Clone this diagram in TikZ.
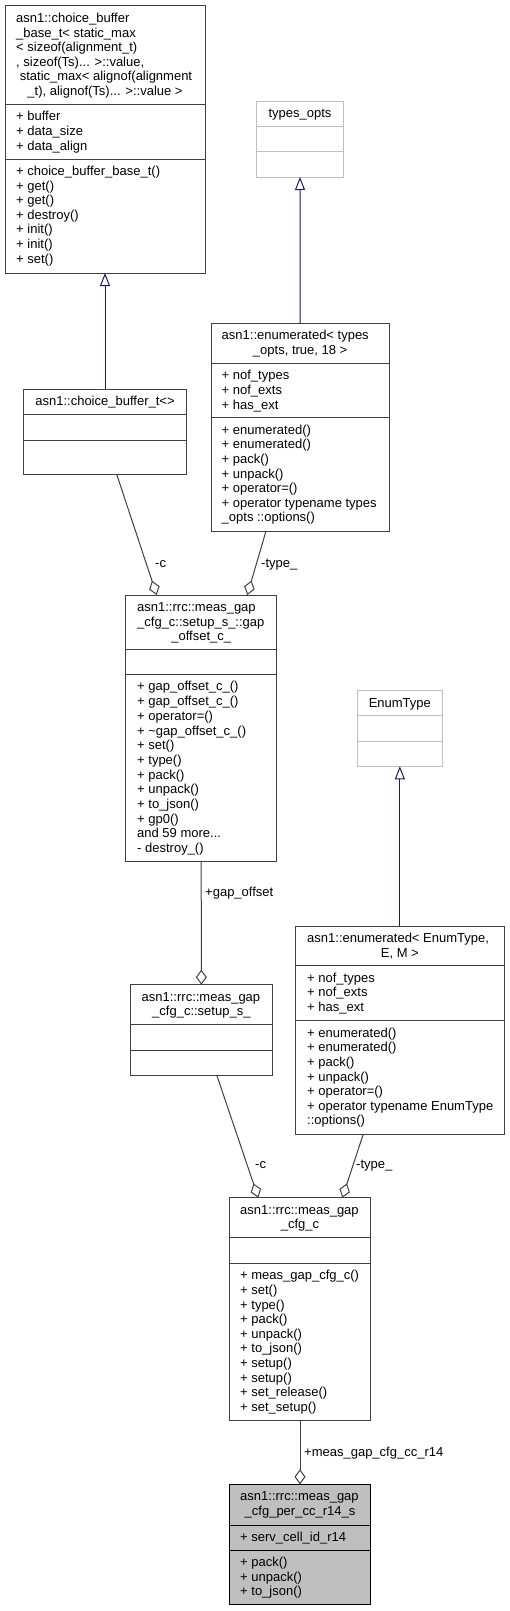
\documentclass[tikz,border=0pt]{standalone}
\usepackage{fontspec}
\setmainfont{Liberation Sans}
\usepackage{xcolor}
\usepackage{tikz}
\usetikzlibrary{arrows.meta}

\definecolor{boxgray}{HTML}{404040}
\definecolor{extgray}{HTML}{BFBFBF}
\definecolor{hlfill}{HTML}{BFBFBF}
\definecolor{edgegray}{HTML}{404040}
\definecolor{navyline}{HTML}{191970}

\newcommand{\tdots}{...}

\tikzset{
  cls/.style={draw=boxgray, line width=1pt, fill=white, anchor=north west, inner sep=0pt, outer sep=0pt},
  extcls/.style={cls, draw=extgray},
  sep/.style={draw=boxgray, line width=1pt},
  extsep/.style={draw=extgray, line width=1pt},
  txt/.style={anchor=base west, inner sep=0pt},
  ttl/.style={anchor=base, inner sep=0pt},
  lbl/.style={anchor=base west, inner sep=0pt},
  inherit/.style={draw=navyline, line width=1pt, -{Triangle[open, length=13pt, width=10pt]}},
  member/.style={draw=edgegray, line width=1pt, -{Diamond[open, length=15pt, width=11pt]}},
}

\begin{document}
\begin{tikzpicture}[x=1pt, y=-1pt, font=\fontsize{13}{14.6}\selectfont]
  \useasboundingbox (0,0) rectangle (509,1611);

  % choice_buffer_base_t
  \node[cls, minimum width=200, minimum height=267] (base) at (5,6) {};
  \draw[sep] (5,104.3) -- (205,104.3) (5,159) -- (205,159);
  \foreach \t [count=\i] in {asn1::choice\_buffer, \_base\_t< static\_max, < sizeof(alignment\_t), {, sizeof(Ts)\tdots{} >::value,}, {\ static\_max< alignof(alignment}}
    \node[txt] (base-t\i) at (16,{6+1.9+14.6*\i}) {\t};
  \node[ttl] (base-t6) at (105,95.5) {\_t), alignof(Ts)\tdots{} >::value >};
  \foreach \t [count=\i] in {+ buffer, + data\_size, + data\_align}
    \node[txt] (base-a\i) at (16,{104.3+1.9+14.6*\i}) {\t};
  \foreach \t [count=\i] in {+ choice\_buffer\_base\_t(), + get(), + get(), + destroy(), + init(), + init(), + set()}
    \node[txt] (base-m\i) at (16,{159+1.9+14.6*\i}) {\t};

  % types_opts
  \node[extcls, minimum width=86.6, minimum height=76] (topts) at (256.7,101) {};
  \draw[extsep] (256.7,126.7) -- (343.3,126.7) (256.7,151.7) -- (343.3,151.7);
  \node[ttl] (topts-t) at (300,117.5) {types\_opts};

  % enumerated< types_opts >
  \node[cls, minimum width=178.3, minimum height=207.7] (enumt) at (211,323.3) {};
  \draw[sep] (211,363.3) -- (389.3,363.3) (211,417.7) -- (389.3,417.7);
  \node[txt] (enumt-t1) at (221.5,339.8) {asn1::enumerated< types};
  \node[ttl] (enumt-t2) at (300.15,354.4) {\_opts, true, 18 >};
  \foreach \t [count=\i] in {+ nof\_types, + nof\_exts, + has\_ext}
    \node[txt] (enumt-a\i) at (221.5,{363.3+1.9+14.6*\i}) {\t};
  \foreach \t [count=\i] in {+ enumerated(), + enumerated(), + pack(), + unpack(), + operator=(), + operator typename types, \_opts ::options()}
    \node[txt] (enumt-m\i) at (221.5,{417.7+1.9+14.6*\i}) {\t};

  % choice_buffer_t<>
  \node[cls, minimum width=163.4, minimum height=85] (cbuf) at (23.3,389.3) {};
  \draw[sep] (23.3,414.3) -- (186.7,414.3) (23.3,440) -- (186.7,440);
  \node[ttl] (cbuf-t) at (105,405.8) {asn1::choice\_buffer\_t<>};

  % gap_offset_c_
  \node[cls, minimum width=151, minimum height=266.7] (gapoff) at (125.7,595) {};
  \draw[sep] (125.7,649.3) -- (276.7,649.3) (125.7,674.3) -- (276.7,674.3);
  \node[txt] (gapoff-t1) at (137,611.5) {asn1::rrc::meas\_gap};
  \node[txt] (gapoff-t2) at (137,626.1) {\_cfg\_c::setup\_s\_::gap};
  \node[ttl] (gapoff-t3) at (201.2,640.7) {\_offset\_c\_};
  \foreach \t [count=\i] in {+ gap\_offset\_c\_(), + gap\_offset\_c\_(), + operator=(), + \textasciitilde gap\_offset\_c\_(), + set(), + type(), + pack(), + unpack(), + to\_json(), + gp0(), and 59 more\tdots, - destroy\_()}
    \node[txt] (gapoff-m\i) at (137,{674.3+1.9+14.7*\i}) {\t};

  % EnumType
  \node[extcls, minimum width=84.3, minimum height=75.6] (enumty) at (357.7,690.7) {};
  \draw[extsep] (357.7,715.7) -- (442,715.7) (357.7,741) -- (442,741);
  \node[ttl] (enumty-t) at (399.85,707.2) {EnumType};

  % enumerated< EnumType, E, M >
  \node[cls, minimum width=208.3, minimum height=208] (enume) at (295.7,926) {};
  \draw[sep] (295.7,965.7) -- (504,965.7) (295.7,1020.7) -- (504,1020.7);
  \node[txt] (enume-t1) at (307,942.5) {asn1::enumerated< EnumType,};
  \node[ttl] (enume-t2) at (399.85,957.1) {E, M >};
  \foreach \t [count=\i] in {+ nof\_types, + nof\_exts, + has\_ext}
    \node[txt] (enume-a\i) at (307,{965.7+1.9+14.6*\i}) {\t};
  \foreach \t [count=\i] in {+ enumerated(), + enumerated(), + pack(), + unpack(), + operator=(), + operator typename EnumType, ::options()}
    \node[txt] (enume-m\i) at (307,{1020.7+1.9+14.6*\i}) {\t};

  % setup_s_
  \node[cls, minimum width=141.3, minimum height=90.3] (setup) at (130.7,984.7) {};
  \draw[sep] (130.7,1024.3) -- (272,1024.3) (130.7,1050) -- (272,1050);
  \node[txt] (setup-t1) at (141.5,1001.2) {asn1::rrc::meas\_gap};
  \node[ttl] (setup-t2) at (201.35,1015.8) {\_cfg\_c::setup\_s\_};

  % meas_gap_cfg_c
  \node[cls, minimum width=141.4, minimum height=223] (cfg) at (229.3,1197.7) {};
  \draw[sep] (229.3,1237.7) -- (370.7,1237.7) (229.3,1263.3) -- (370.7,1263.3);
  \node[txt] (cfg-t1) at (240,1214.2) {asn1::rrc::meas\_gap};
  \node[ttl] (cfg-t2) at (300,1228.8) {\_cfg\_c};
  \foreach \t [count=\i] in {+ meas\_gap\_cfg\_c(), + set(), + type(), + pack(), + unpack(), + to\_json(), + setup(), + setup(), + set\_release(), + set\_setup()}
    \node[txt] (cfg-m\i) at (240,{1263.3+1.9+14.6*\i}) {\t};

  % meas_gap_cfg_per_cc_r14_s
  \node[cls, draw=black, fill=hlfill, minimum width=141.4, minimum height=120] (percc) at (229.3,1484.3) {};
  \draw[sep, draw=black] (229.3,1525) -- (370.7,1525) (229.3,1550) -- (370.7,1550);
  \node[txt] (percc-t1) at (240,1500.8) {asn1::rrc::meas\_gap};
  \node[ttl] (percc-t2) at (300,1515.4) {\_cfg\_per\_cc\_r14\_s};
  \node[txt] (percc-a1) at (240,1541.5) {+ serv\_cell\_id\_r14};
  \foreach \t [count=\i] in {+ pack(), + unpack(), + to\_json()}
    \node[txt] (percc-m\i) at (240,{1550+1.9+14.6*\i}) {\t};

  % inheritance
  \draw[inherit] (cbuf.north) -- (base.south);
  \draw[inherit] (enumt.north) -- (topts.south);
  \draw[inherit] (enume.north) -- (enumty.south);

  % members
  \draw[member] ([xshift=11.7pt]cbuf.south) -- ([xshift=-44.5pt]gapoff.north);
  \draw[member] ([xshift=-34.15pt]enumt.south) -- ([xshift=46.1pt]gapoff.north);
  \draw[member] (gapoff.south) -- (setup.north);
  \draw[member] ([xshift=15.35pt]setup.south) -- ([xshift=-41.7pt]cfg.north);
  \draw[member] ([xshift=-36.55pt]enume.south) -- ([xshift=42.3pt]cfg.north);
  \draw[member] (cfg.south) -- (percc.north);

  \node[lbl] (lbl-c1) at (155,567.5) {-c};
  \node[lbl] (lbl-type1) at (261,567.5) {-type\_};
  \node[lbl] (lbl-gap) at (205,896.5) {+gap\_offset};
  \node[lbl] (lbl-c2) at (255,1168.5) {-c};
  \node[lbl] (lbl-type2) at (356,1168.5) {-type\_};
  \node[lbl] (lbl-cc) at (304,1456) {+meas\_gap\_cfg\_cc\_r14};
\end{tikzpicture}
\end{document}
